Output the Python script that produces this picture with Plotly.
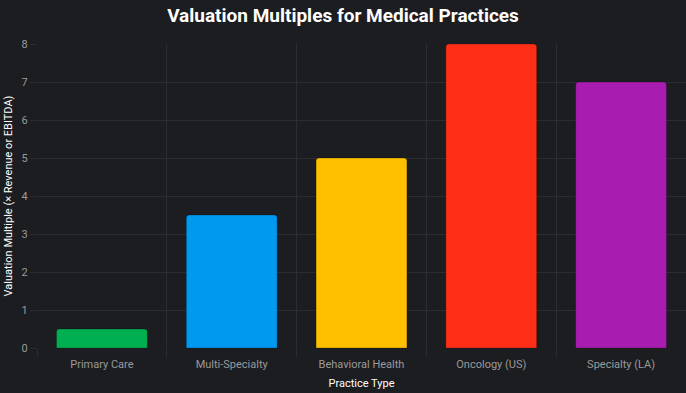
import plotly.graph_objects as go

categories = ["Primary Care", "Multi-Specialty", "Behavioral Health", "Oncology (US)", "Specialty (LA)"]
values = [0.5, 3.5, 5, 8, 7]
colors = ["#00B050", "#0099F0", "#FFC000", "#FF2E17", "#A91CB0"]

fig = go.Figure(go.Bar(
    x=categories, y=values,
    marker=dict(color=colors, line=dict(color="rgba(0,0,0,0.25)", width=1)),
    width=0.7,
))

fig.update_layout(
    width=686, height=393,
    paper_bgcolor="#1c1d21", plot_bgcolor="#1c1d21",
    margin=dict(l=37, r=0, t=44, b=45),
    barcornerradius=3,
    title=dict(text="<b>Valuation Multiples for Medical Practices</b>", x=0.5, xanchor="center",
               y=0.962, yanchor="middle",
               font=dict(family="Roboto, Arial, sans-serif", size=19, color="#ffffff")),
    font=dict(family="Roboto, Arial, sans-serif", color="#9a9a9a", size=11),
    showlegend=False,
)
fig.update_xaxes(
    title=dict(text="Practice Type", font=dict(color="#ffffff", size=11), standoff=9),
    tickson="boundaries", showgrid=True, gridcolor="#2c2d31", gridwidth=1,
    ticks="outside", ticklen=8, tickcolor="#2c2d31", ticklabelstandoff=8,
    tickfont=dict(color="#9a9a9a", size=11), zeroline=False, showline=False,
)
fig.update_yaxes(
    title=dict(text="Valuation Multiple (× Revenue or EBITDA)", font=dict(color="#ffffff", size=11), standoff=6),
    range=[0, 8], dtick=1, showgrid=True, gridcolor="#2c2d31", gridwidth=1,
    ticks="outside", ticklen=6, tickcolor="#2c2d31",
    tickfont=dict(color="#9a9a9a", size=11), zeroline=False, showline=False,
)

fig.write_html(
    "out.html",
    config={"displayModeBar": False},
    post_script="document.body.style.margin='0';document.body.style.background='#1c1d21';",
)
